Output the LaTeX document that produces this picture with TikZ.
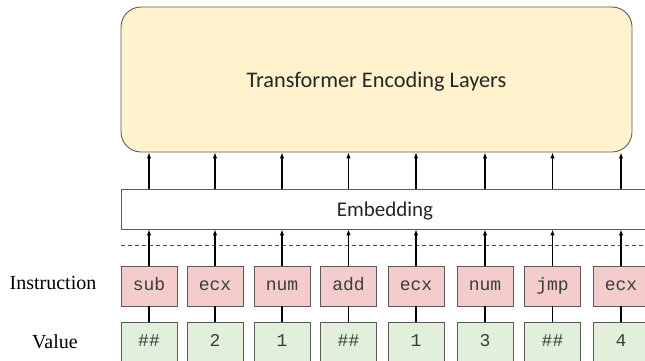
\documentclass[tikz,border=0pt]{standalone}
\usepackage{fontspec}
\setmainfont{Liberation Serif}
\newfontfamily\uifont{Carlito}
\newfontfamily\codefont{Liberation Mono}
\usetikzlibrary{arrows.meta}
\definecolor{layerfill}{RGB}{255,242,204}
\definecolor{instrfill}{RGB}{244,204,204}
\definecolor{valfill}{RGB}{226,239,218}
\definecolor{edgegray}{RGB}{90,90,90}
\definecolor{codegray}{RGB}{60,60,60}
\tikzset{
  layerbox/.style={draw=edgegray, line width=0.9pt, fill=layerfill, rounded corners=20pt,
    minimum width=511pt, minimum height=145pt, inner sep=0pt, text depth=0pt,
    font=\uifont\fontsize{22.3}{26}\selectfont, text=black!85},
  embbox/.style={draw=edgegray, line width=0.9pt, fill=white,
    minimum width=528pt, minimum height=40pt, inner sep=0pt, text depth=0pt,
    font=\uifont\fontsize{21}{25}\selectfont, text=black!85},
  tokbox/.style={draw=edgegray, line width=0.8pt, minimum width=56pt, minimum height=40pt,
    inner sep=0pt, text height=10pt, text depth=1pt,
    font=\codefont\fontsize{18}{20}\selectfont, text=codegray},
  instrbox/.style={tokbox, fill=instrfill},
  valbox/.style={tokbox, fill=valfill},
  rowlabel/.style={font=\fontsize{20}{24}\selectfont, text=black},
  flow/.style={line width=1.1pt, -{Latex[length=6pt,width=4.5pt]}},
  link/.style={line width=1.1pt},
  sep/.style={draw=black!70, line width=0.8pt, dash pattern=on 4pt off 3pt}
}
\begin{document}
\begin{tikzpicture}[x=1pt, y=-1pt]
  \useasboundingbox (0,0) rectangle (645,361);

  % transformer stack and embedding layer
  \node[layerbox] (enc) at (376.5,79.5) {Transformer Encoding Layers};
  \node[embbox] (emb) at (385,209) {Embedding};

  % separator between embedding and the token rows
  \coordinate (sepL) at (121,245);
  \coordinate (sepR) at (650,245);
  \draw[sep] (sepL) -- (sepR);

  % row labels
  \node[rowlabel] (lblI) at (53,283) {Instruction};
  \node[rowlabel] (lblV) at (55,342) {Value};

  % token columns: instruction over value
  \foreach \i/\x/\ins/\val in {1/149/sub/\#\#, 2/215/ecx/2, 3/282/num/1, 4/348.5/add/\#\#,
                               5/416/ecx/1, 6/485/num/3, 7/552.5/jmp/\#\#, 8/621/ecx/4} {
    \node[instrbox] (ins\i) at (\x,286) {\ins};
    \node[valbox] (val\i) at (\x,342) {\val};
    \draw[link] (val\i.north) -- (ins\i.south);
    \draw[flow] (ins\i.north) -- (ins\i.north |- emb.south);
    \draw[flow] (ins\i.north |- emb.north) -- (ins\i.north |- enc.south);
  }
\end{tikzpicture}
\end{document}
